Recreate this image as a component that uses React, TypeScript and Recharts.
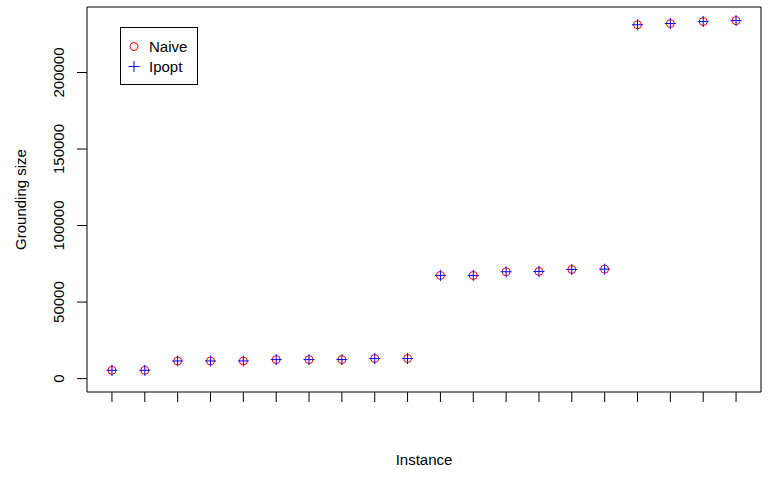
import React from 'react';
import {
  ScatterChart,
  Scatter,
  XAxis,
  YAxis,
  ReferenceArea,
  Label
} from 'recharts';

const instances = [1, 2, 3, 4, 5, 6, 7, 8, 9, 10, 11, 12, 13, 14, 15, 16, 17, 18, 19, 20];
const naive = [5400, 5400, 11500, 11500, 11500, 12400, 12400, 12400, 13100, 13100,
  67400, 67400, 69800, 70000, 71300, 71500, 231200, 232000, 233300, 233900];
const ipopt = [5400, 5400, 11500, 11500, 11500, 12400, 12400, 12400, 13100, 13100,
  67400, 67400, 69800, 70000, 71300, 71500, 231200, 232000, 233300, 233900];
const yTicks = [0, 50000, 100000, 150000, 200000];
const seriesNames = ['Naive', 'Ipopt'];

const xDomain: [number, number] = [0.24, 20.76];
const yDomain: [number, number] = [-8770, 242800];

const naiveData = instances.map((x, i) => ({ x, y: naive[i] }));
const ipoptData = instances.map((x, i) => ({ x, y: ipopt[i] }));

const FONT = '"Liberation Sans", Arial, Helvetica, sans-serif';

const Circle = (props: any) => (
  <circle cx={props.cx} cy={props.cy} r={4} fill="none" stroke="#ff0000" strokeWidth={1} />
);

const Plus = (props: any) => {
  const { cx, cy } = props;
  return (
    <g stroke="#0000ff" strokeWidth={1}>
      <line x1={cx - 5.5} y1={cy} x2={cx + 5.5} y2={cy} />
      <line x1={cx} y1={cy - 5.5} x2={cx} y2={cy + 5.5} />
    </g>
  );
};

const NoTick = () => <g />;

const YTick = (props: any) => {
  const { y, payload } = props;
  const x = 64;
  return (
    <text x={x} y={y} transform={`rotate(-90, ${x}, ${y})`} textAnchor="middle"
      fontFamily={FONT} fontSize={15} fill="#000">
      {payload.value}
    </text>
  );
};

// legend drawn as an overlay so it does not take space from the plot
const LegendBox = () => (
  <svg width={78} height={58} style={{ position: 'absolute', left: 120, top: 27 }}>
    <rect x={0.5} y={0.5} width={77} height={57} fill="#fff" stroke="#000" />
    <circle cx={14} cy={19.5} r={4} fill="none" stroke="#ff0000" />
    <line x1={8.5} y1={39.5} x2={19.5} y2={39.5} stroke="#0000ff" />
    <line x1={14} y1={34} x2={14} y2={45} stroke="#0000ff" />
    <text x={29} y={25} fontFamily={FONT} fontSize={15} fill="#000">{seriesNames[0]}</text>
    <text x={29} y={45} fontFamily={FONT} fontSize={15} fill="#000">{seriesNames[1]}</text>
  </svg>
);

export default function App() {
  return (
    <div style={{ position: 'absolute', left: 0, top: 0, width: 769, height: 477, background: '#fff' }}>
      <ScatterChart width={769} height={477} margin={{ top: 7, right: 8, bottom: 0, left: 0 }}>
        <XAxis type="number" dataKey="x" domain={xDomain} ticks={instances} allowDataOverflow
          axisLine={false} tickLine={{ stroke: '#000' }} tickSize={10} tick={NoTick} height={85}>
          <Label content={(p: any) => {
            const vb = p.viewBox;
            return (
              <text x={vb.x + vb.width / 2} y={465} textAnchor="middle"
                fontFamily={FONT} fontSize={15} fill="#000">Instance</text>
            );
          }} />
        </XAxis>
        <YAxis type="number" dataKey="y" domain={yDomain} ticks={yTicks} allowDataOverflow
          axisLine={false} tickLine={{ stroke: '#000' }} tickSize={10} tick={YTick} width={87}>
          <Label content={(p: any) => {
            const vb = p.viewBox;
            const cy = vb.y + vb.height / 2;
            return (
              <text x={26} y={cy} transform={`rotate(-90, 26, ${cy})`} textAnchor="middle"
                fontFamily={FONT} fontSize={15} fill="#000">Grounding size</text>
            );
          }} />
        </YAxis>
        <ReferenceArea x1={xDomain[0]} x2={xDomain[1]} y1={yDomain[0]} y2={yDomain[1]}
          fill="none" stroke="#000" strokeOpacity={1} fillOpacity={0} ifOverflow="visible" />
        <Scatter name={seriesNames[0]} data={naiveData} shape={Circle} isAnimationActive={false} />
        <Scatter name={seriesNames[1]} data={ipoptData} shape={Plus} isAnimationActive={false} />
      </ScatterChart>
      <LegendBox />
    </div>
  );
}
